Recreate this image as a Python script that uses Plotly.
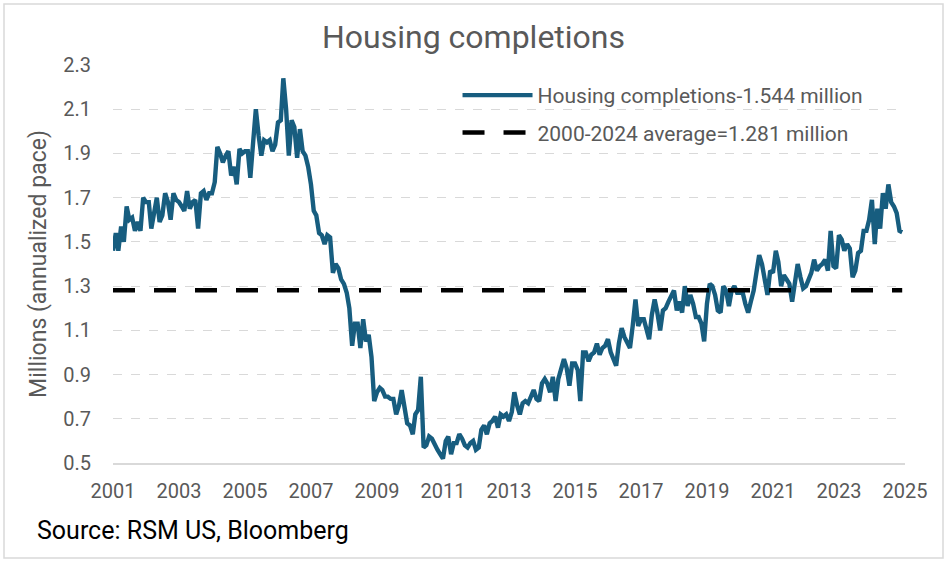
import pandas as pd
import plotly.graph_objects as go

# Monthly housing completions (millions, annualized), Jan 2001 - Dec 2024
y2001 = [1.46, 1.54, 1.46, 1.57, 1.50, 1.66, 1.60, 1.61, 1.55, 1.59, 1.55, 1.70]
y2002 = [1.68, 1.68, 1.56, 1.62, 1.70, 1.59, 1.62, 1.72, 1.68, 1.60, 1.72, 1.69]
y2003 = [1.68, 1.66, 1.64, 1.73, 1.65, 1.68, 1.69, 1.56, 1.72, 1.73, 1.69, 1.72]
y2004 = [1.72, 1.77, 1.93, 1.90, 1.86, 1.89, 1.91, 1.80, 1.84, 1.76, 1.92, 1.90]
y2005 = [1.91, 1.91, 1.79, 1.95, 2.10, 1.98, 1.89, 1.96, 1.95, 1.96, 1.91, 1.94]
y2006 = [2.04, 2.05, 2.24, 2.10, 1.89, 2.05, 2.02, 1.88, 2.01, 1.91, 1.89, 1.84]
y2007 = [1.76, 1.64, 1.62, 1.54, 1.53, 1.49, 1.53, 1.52, 1.36, 1.40, 1.38, 1.33]
y2008 = [1.31, 1.27, 1.20, 1.03, 1.13, 1.13, 1.02, 1.15, 1.05, 1.08, 0.98, 0.78]
y2009 = [0.82, 0.84, 0.83, 0.80, 0.80, 0.79, 0.79, 0.72, 0.76, 0.83, 0.74, 0.68]
y2010 = [0.67, 0.63, 0.72, 0.74, 0.89, 0.57, 0.58, 0.62, 0.61, 0.58, 0.56, 0.54]
y2011 = [0.52, 0.60, 0.62, 0.54, 0.59, 0.59, 0.63, 0.61, 0.58, 0.57, 0.59, 0.60]
y2012 = [0.56, 0.57, 0.65, 0.67, 0.63, 0.68, 0.69, 0.71, 0.66, 0.72, 0.71, 0.72]
y2013 = [0.69, 0.73, 0.82, 0.76, 0.72, 0.77, 0.78, 0.77, 0.80, 0.83, 0.79, 0.78]
y2014 = [0.86, 0.88, 0.86, 0.82, 0.89, 0.78, 0.88, 0.93, 0.97, 0.93, 0.85, 0.95]
y2015 = [0.95, 0.92, 0.78, 1.00, 1.00, 0.96, 0.99, 1.00, 1.04, 0.99, 1.02, 1.03]
y2016 = [1.06, 1.00, 0.97, 0.94, 1.04, 1.11, 1.07, 1.04, 1.02, 1.12, 1.24, 1.12]
y2017 = [1.15, 1.15, 1.10, 1.06, 1.17, 1.24, 1.18, 1.10, 1.19, 1.20, 1.23, 1.25]
y2018 = [1.28, 1.19, 1.23, 1.18, 1.30, 1.21, 1.26, 1.22, 1.16, 1.16, 1.13, 1.05]
y2019 = [1.22, 1.31, 1.30, 1.26, 1.19, 1.18, 1.30, 1.28, 1.21, 1.28, 1.30, 1.27]
y2020 = [1.27, 1.27, 1.22, 1.18, 1.23, 1.28, 1.36, 1.44, 1.40, 1.34, 1.26, 1.37]
y2021 = [1.36, 1.46, 1.41, 1.30, 1.35, 1.33, 1.31, 1.23, 1.31, 1.40, 1.34, 1.29]
y2022 = [1.30, 1.34, 1.36, 1.42, 1.37, 1.39, 1.40, 1.42, 1.37, 1.55, 1.39, 1.38]
y2023 = [1.53, 1.51, 1.46, 1.49, 1.47, 1.34, 1.37, 1.45, 1.46, 1.55, 1.55, 1.60]
y2024 = [1.69, 1.49, 1.65, 1.56, 1.72, 1.65, 1.76, 1.68, 1.66, 1.63, 1.55, 1.544]

completions = (y2001 + y2002 + y2003 + y2004 + y2005 + y2006 + y2007 + y2008 +
               y2009 + y2010 + y2011 + y2012 + y2013 + y2014 + y2015 + y2016 +
               y2017 + y2018 + y2019 + y2020 + y2021 + y2022 + y2023 + y2024)
dates = pd.date_range("2001-01-01", periods=len(completions), freq="MS")
average_value = 1.281
avg_dates = [dates[0], dates[-1]]

y_ticks = [0.5, 0.7, 0.9, 1.1, 1.3, 1.5, 1.7, 1.9, 2.1, 2.3]
x_tick_years = list(range(2001, 2026, 2))

series_name = "Housing completions-1.544 million"
avg_name = "2000-2024 average=1.281 million"

FONT = "Roboto, sans-serif"
GRAY = "#595959"

fig = go.Figure()
fig.add_trace(go.Scatter(
    x=dates, y=completions, mode="lines", name=series_name, legendgroup="a",
    line=dict(color="#175D7F", width=4.4)))
fig.add_trace(go.Scatter(
    x=avg_dates, y=[average_value, average_value], mode="lines", name=avg_name,
    legendgroup="b",
    line=dict(color="black", width=4.5, dash="22px,19px")))

fig.update_layout(
    width=947, height=562,
    margin=dict(l=113, r=42, t=65, b=99),
    paper_bgcolor="white", plot_bgcolor="white",
    font=dict(family=FONT, color=GRAY, size=20),
    title=dict(text="Housing completions", x=0.5, xanchor="center",
               y=1 - 37 / 562, yanchor="middle",
               font=dict(size=32, color=GRAY, family=FONT)),
    showlegend=True,
    legend=dict(x=0.435, y=0.975, xanchor="left", yanchor="top",
                bgcolor="rgba(0,0,0,0)", font=dict(size=21, color=GRAY),
                itemwidth=70, tracegroupgap=7),
    xaxis=dict(
        type="date",
        range=["2001-01-01", "2025-01-01"],
        tickvals=[pd.Timestamp(f"{y}-01-01") for y in x_tick_years],
        ticktext=[str(y) for y in x_tick_years],
        showgrid=False, showline=True, linecolor="#d9d9d9", linewidth=1.5,
        ticks="", ticklabelstandoff=9,
        tickfont=dict(size=20, color=GRAY)),
    yaxis=dict(
        range=[0.5, 2.3], tickvals=y_ticks,
        ticktext=[f"{v:.1f}" for v in y_ticks],
        showgrid=True, gridcolor="#d9d9d9", griddash="dash", gridwidth=1.2,
        zeroline=False, showline=False, ticks="", ticklabelstandoff=21,
        tickfont=dict(size=20, color=GRAY),
        title=dict(text="Millions (annualized pace)", standoff=10,
                   font=dict(size=23, color=GRAY))),
)

# outer chart border
fig.add_shape(type="rect", xref="paper", yref="paper",
              x0=(4 - 113) / 792, x1=(943 - 113) / 792,
              y0=(463 - 558) / 398, y1=(463 - 4) / 398,
              line=dict(color="#d9d9d9", width=1.5), layer="below")

fig.add_annotation(text="Source: RSM US, Bloomberg", xref="paper", yref="paper",
                   x=(35 - 113) / 792, y=(463 - 530) / 398,
                   xanchor="left", yanchor="middle", showarrow=False,
                   font=dict(size=25, color="black", family=FONT))

fig.write_html("out.html", config={"displayModeBar": False},
               post_script="document.body.style.margin='0';")
